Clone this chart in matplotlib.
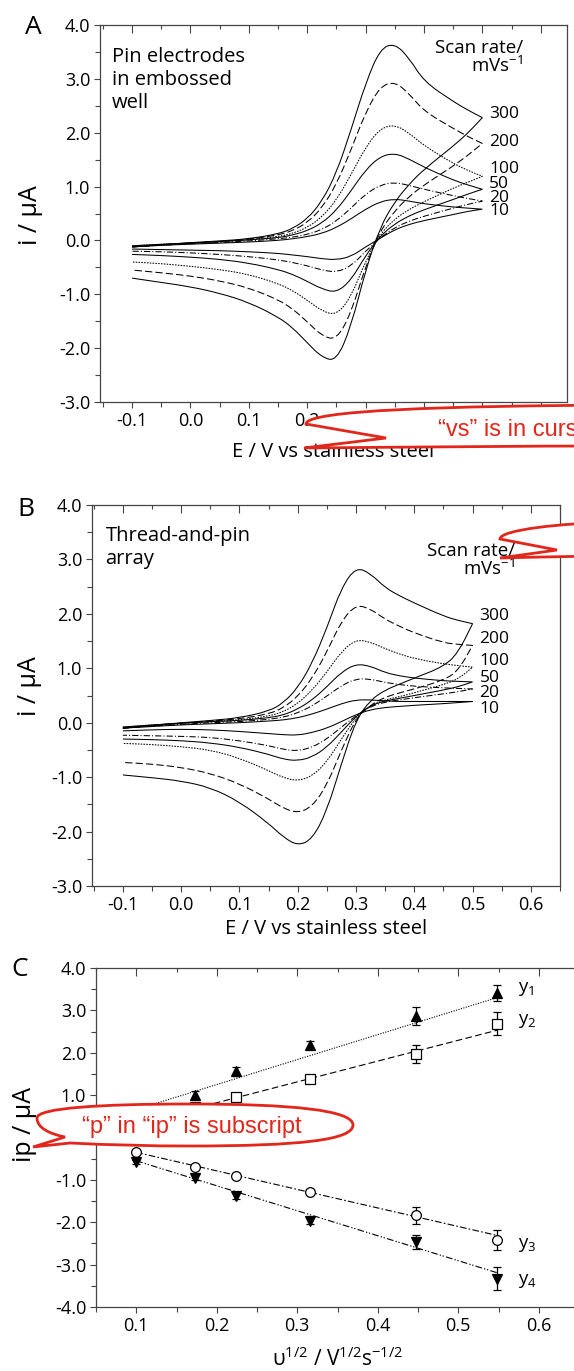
import matplotlib
matplotlib.use('Agg')
import matplotlib.pyplot as plt
from matplotlib.path import Path
from matplotlib.patches import PathPatch
from matplotlib.ticker import MultipleLocator, FormatStrFormatter

plt.rcParams['font.family'] = ['Open Sans', 'DejaVu Sans']
plt.rcParams['axes.unicode_minus'] = False
plt.rcParams['mathtext.fontset'] = 'custom'
plt.rcParams['mathtext.rm'] = 'Open Sans'
plt.rcParams['mathtext.it'] = 'Open Sans:italic'
plt.rcParams['mathtext.default'] = 'regular'

W, H = 574, 1371

# potential grid (V) for all voltammograms
E = [-0.1, -0.05, 0.0, 0.05, 0.1, 0.15, 0.175, 0.2, 0.225, 0.25, 0.275,
     0.3, 0.325, 0.35, 0.375, 0.4, 0.45, 0.475, 0.5]
rates = ['300', '200', '100', '50', '20', '10']

# panel A: pin electrodes in embossed well (uA), forward / reverse scan
a300_fwd = [-0.12, -0.08, -0.04, -0.01, 0.03, 0.12, 0.22, 0.40, 0.72, 1.25, 2.05, 2.92, 3.56, 3.66, 3.38, 2.95, 2.58, 2.42, 2.28]
a300_rev = [-0.70, -0.78, -0.86, -0.98, -1.15, -1.42, -1.62, -1.90, -2.17, -2.24, -1.60, -0.55, 0.25, 0.72, 1.05, 1.32, 1.75, 1.99, 2.28]
a200_fwd = [-0.12, -0.08, -0.05, -0.02, 0.02, 0.10, 0.18, 0.33, 0.60, 1.04, 1.68, 2.38, 2.86, 2.95, 2.72, 2.40, 2.08, 1.93, 1.80]
a200_rev = [-0.55, -0.60, -0.66, -0.75, -0.88, -1.10, -1.27, -1.51, -1.77, -1.85, -1.35, -0.48, 0.18, 0.55, 0.82, 1.03, 1.38, 1.58, 1.80]
a100_fwd = [-0.10, -0.07, -0.05, -0.02, 0.01, 0.07, 0.13, 0.24, 0.43, 0.75, 1.22, 1.73, 2.08, 2.15, 1.99, 1.76, 1.43, 1.30, 1.19]
a100_rev = [-0.40, -0.43, -0.48, -0.54, -0.63, -0.80, -0.93, -1.11, -1.31, -1.39, -1.05, -0.38, 0.12, 0.40, 0.58, 0.72, 0.97, 1.08, 1.19]
a50_fwd = [-0.10, -0.07, -0.05, -0.02, 0.01, 0.05, 0.10, 0.18, 0.32, 0.56, 0.92, 1.31, 1.56, 1.62, 1.51, 1.36, 1.12, 1.03, 0.95]
a50_rev = [-0.26, -0.28, -0.31, -0.35, -0.42, -0.54, -0.63, -0.76, -0.90, -0.97, -0.74, -0.28, 0.08, 0.31, 0.46, 0.57, 0.76, 0.86, 0.95]
a20_fwd = [-0.12, -0.09, -0.06, -0.04, -0.01, 0.03, 0.06, 0.11, 0.20, 0.36, 0.60, 0.86, 1.03, 1.08, 1.02, 0.95, 0.83, 0.78, 0.73]
a20_rev = [-0.20, -0.21, -0.23, -0.26, -0.30, -0.36, -0.41, -0.47, -0.55, -0.59, -0.48, -0.20, 0.05, 0.24, 0.36, 0.45, 0.60, 0.67, 0.73]
a10_fwd = [-0.12, -0.09, -0.07, -0.05, -0.03, 0.00, 0.03, 0.07, 0.13, 0.24, 0.40, 0.58, 0.72, 0.77, 0.73, 0.68, 0.62, 0.60, 0.58]
a10_rev = [-0.16, -0.17, -0.18, -0.19, -0.21, -0.24, -0.27, -0.30, -0.34, -0.36, -0.30, -0.12, 0.04, 0.20, 0.30, 0.37, 0.48, 0.54, 0.58]
a_label_y = [2.35, 1.83, 1.32, 1.04, 0.79, 0.54]

# panel B: thread-and-pin array
b300_fwd = [-0.10, -0.05, 0.00, 0.04, 0.09, 0.21, 0.36, 0.64, 1.10, 1.74, 2.48, 2.86, 2.74, 2.48, 2.33, 2.20, 1.96, 1.88, 1.82]
b300_rev = [-0.96, -1.01, -1.07, -1.19, -1.45, -1.85, -2.10, -2.26, -2.14, -1.62, -0.75, 0.05, 0.42, 0.60, 0.71, 0.82, 1.03, 1.28, 1.82]
b200_fwd = [-0.10, -0.05, -0.01, 0.03, 0.07, 0.16, 0.27, 0.48, 0.82, 1.30, 1.87, 2.17, 2.09, 1.90, 1.77, 1.65, 1.47, 1.44, 1.42]
b200_rev = [-0.73, -0.76, -0.82, -0.93, -1.12, -1.40, -1.57, -1.66, -1.54, -1.15, -0.50, 0.08, 0.33, 0.47, 0.55, 0.62, 0.78, 0.95, 1.42]
b100_fwd = [-0.08, -0.04, -0.01, 0.02, 0.05, 0.12, 0.20, 0.35, 0.60, 0.93, 1.31, 1.53, 1.48, 1.36, 1.26, 1.18, 1.08, 1.05, 1.02]
b100_rev = [-0.38, -0.40, -0.44, -0.50, -0.65, -0.88, -1.01, -1.07, -0.98, -0.72, -0.30, 0.10, 0.32, 0.42, 0.48, 0.55, 0.70, 0.80, 1.02]
b50_fwd = [-0.08, -0.04, -0.01, 0.02, 0.04, 0.09, 0.14, 0.25, 0.42, 0.66, 0.93, 1.08, 1.04, 0.92, 0.86, 0.82, 0.77, 0.76, 0.75]
b50_rev = [-0.30, -0.31, -0.33, -0.37, -0.45, -0.58, -0.67, -0.70, -0.63, -0.45, -0.17, 0.12, 0.32, 0.40, 0.45, 0.50, 0.60, 0.66, 0.75]
b20_fwd = [-0.10, -0.06, -0.03, 0.00, 0.02, 0.06, 0.10, 0.18, 0.31, 0.49, 0.68, 0.81, 0.80, 0.74, 0.70, 0.67, 0.64, 0.63, 0.62]
b20_rev = [-0.23, -0.24, -0.25, -0.27, -0.33, -0.42, -0.49, -0.52, -0.45, -0.30, -0.08, 0.13, 0.30, 0.38, 0.42, 0.46, 0.53, 0.57, 0.62]
b10_fwd = [-0.10, -0.07, -0.04, -0.02, 0.00, 0.03, 0.05, 0.09, 0.16, 0.25, 0.35, 0.42, 0.42, 0.40, 0.39, 0.39, 0.39, 0.39, 0.39]
b10_rev = [-0.15, -0.13, -0.12, -0.13, -0.16, -0.20, -0.22, -0.23, -0.18, -0.10, 0.02, 0.15, 0.24, 0.28, 0.30, 0.32, 0.35, 0.37, 0.39]
b_label_y = [1.96, 1.54, 1.14, 0.83, 0.55, 0.26]

# panel C: peak current vs sqrt(scan rate)
sqrt_v = [0.1, 0.173, 0.224, 0.316, 0.447, 0.548]
y1 = [0.62, 1.01, 1.56, 2.19, 2.86, 3.41]
y2 = [0.40, 0.72, 0.96, 1.39, 1.97, 2.68]
y3 = [-0.35, -0.69, -0.90, -1.29, -1.84, -2.42]
y4 = [-0.58, -0.95, -1.38, -1.97, -2.47, -3.33]
y1_err = [0.05, 0.08, 0.10, 0.08, 0.21, 0.18]
y2_err = [0.05, 0.05, 0.06, 0.06, 0.21, 0.27]
y3_err = [0.05, 0.05, 0.06, 0.06, 0.20, 0.24]
y4_err = [0.05, 0.06, 0.06, 0.06, 0.17, 0.28]
fit_x = [0.1, 0.548]
y1_fit = [0.66, 3.30]
y2_fit = [0.33, 2.53]
y3_fit = [-0.35, -2.31]
y4_fit = [-0.55, -3.19]

styles = ['-', (0, (7, 3)), (0, (1.5, 1.2)), '-', (0, (6, 2, 1, 2)), '-']
spine_col = '#444444'
red = '#e3261b'


def fpos(x, y):
    return (x / W, 1 - y / H)


def setup(ax, xlim, ylim, xmaj, ymaj):
    ax.set_xlim(*xlim)
    ax.set_ylim(*ylim)
    ax.xaxis.set_major_locator(MultipleLocator(xmaj))
    ax.xaxis.set_minor_locator(MultipleLocator(xmaj / 2))
    ax.yaxis.set_major_locator(MultipleLocator(ymaj))
    ax.yaxis.set_minor_locator(MultipleLocator(ymaj / 2))
    ax.xaxis.set_major_formatter(FormatStrFormatter('%.1f'))
    ax.yaxis.set_major_formatter(FormatStrFormatter('%.1f'))
    ax.tick_params(which='both', direction='out', top=False, right=False,
                   color=spine_col, width=0.8, labelsize=13)
    ax.tick_params(which='major', length=4.5, pad=2.5)
    ax.tick_params(which='minor', length=3.5)
    sec = ax.secondary_xaxis('top')
    sec.xaxis.set_major_locator(MultipleLocator(xmaj))
    sec.xaxis.set_minor_locator(MultipleLocator(xmaj / 2))
    sec.tick_params(which='both', direction='in', labeltop=False,
                    color=spine_col, width=0.8)
    sec.tick_params(which='major', length=6)
    sec.tick_params(which='minor', length=3)
    sec.spines['top'].set_visible(False)
    for s in ax.spines.values():
        s.set_color(spine_col)
        s.set_linewidth(0.9)


def smooth_line(ax, xs, ys, ls):
    # quadratic bezier through the midpoints, data points act as controls
    pts = list(zip(xs, ys))
    verts = [pts[0]]
    codes = [Path.MOVETO]
    for i in range(1, len(pts) - 1):
        nxt = pts[i + 1]
        verts += [pts[i], ((pts[i][0] + nxt[0]) / 2, (pts[i][1] + nxt[1]) / 2)]
        codes += [Path.CURVE3, Path.CURVE3]
    verts.append(pts[-1])
    codes.append(Path.LINETO)
    ax.add_patch(PathPatch(Path(verts, codes), fill=False, edgecolor='black',
                           lw=0.75, ls=ls, capstyle='butt'))


def cv_panel(ax, curves, label_y):
    for (fwd, rev), ls, rate, ly in zip(curves, styles, rates, label_y):
        smooth_line(ax, E + E[::-1], fwd + rev[::-1], ls)
        ax.text(0.512, ly, rate, fontsize=12.5, ha='left', va='center')


fig = plt.figure(figsize=(W / 100, H / 100), dpi=100)

# ---- A
axA = fig.add_axes([100 / W, 1 - 402 / H, 467 / W, 377 / H])
setup(axA, (-0.155, 0.645), (-3, 4), 0.1, 1.0)
cv_panel(axA, [(a300_fwd, a300_rev), (a200_fwd, a200_rev), (a100_fwd, a100_rev),
               (a50_fwd, a50_rev), (a20_fwd, a20_rev), (a10_fwd, a10_rev)], a_label_y)
axA.text(-0.135, 2.97, 'Pin electrodes\nin embossed\nwell', fontsize=14.5,
         ha='left', va='center', linespacing=1.2)
axA.text(0.57, 3.40, 'Scan rate/\nmVs$^{-1}$', fontsize=13.5, ha='right',
         va='center', multialignment='right', linespacing=0.95)
axA.set_xlabel('E / V vs stainless steel', fontsize=14.5, labelpad=9)
axA.set_ylabel('i / μA', fontsize=18)
axA.yaxis.set_label_coords(-0.122, 0.496)

# ---- B
axB = fig.add_axes([92 / W, 1 - 886 / H, 468 / W, 381 / H])
setup(axB, (-0.153, 0.65), (-3, 4), 0.1, 1.0)
cv_panel(axB, [(b300_fwd, b300_rev), (b200_fwd, b200_rev), (b100_fwd, b100_rev),
               (b50_fwd, b50_rev), (b20_fwd, b20_rev), (b10_fwd, b10_rev)], b_label_y)
axB.text(-0.13, 3.22, 'Thread-and-pin\narray', fontsize=14.5, ha='left',
         va='center', linespacing=1.2)
axB.text(0.573, 2.98, 'Scan rate/\nmVs$^{-1}$', fontsize=13.5, ha='right',
         va='center', multialignment='right', linespacing=0.95)
axB.set_xlabel('E / V vs stainless steel', fontsize=14.5, labelpad=4)
axB.set_ylabel('i / μA', fontsize=18)
axB.yaxis.set_label_coords(-0.107, 0.525)

# ---- C
axC = fig.add_axes([96 / W, 1 - 1307 / H, 483 / W, 339 / H])
setup(axC, (0.05, 0.65), (-4, 4), 0.1, 1.0)
axC.spines['right'].set_visible(False)
series = [(y1, y1_err, y1_fit, '^', 'black', (0, (1, 1.3))),
          (y2, y2_err, y2_fit, 's', 'white', (0, (6, 3))),
          (y3, y3_err, y3_fit, 'o', 'white', (0, (6, 2, 1.5, 2))),
          (y4, y4_err, y4_fit, 'v', 'black', (0, (6, 2, 1.2, 1.5, 1.2, 2)))]
for ys, err, fit, mk, fc, ls in series:
    axC.plot(fit_x, fit, color='black', lw=0.8, ls=ls)
    axC.errorbar(sqrt_v, ys, yerr=err, fmt=mk, ms=7, mfc=fc, mec='black',
                 mew=0.9, ecolor='black', elinewidth=0.9, capsize=3,
                 capthick=0.9)
for lab, ly in zip(['y$_1$', 'y$_2$', 'y$_3$', 'y$_4$'], [3.50, 2.75, -2.53, -3.38]):
    axC.text(0.574, ly, lab, fontsize=13.5, ha='left', va='center')
axC.set_xlabel('υ$^{1/2}$ / V$^{1/2}$s$^{-1/2}$', fontsize=15, labelpad=9)
axC.set_ylabel('ip / μA', fontsize=18)
axC.yaxis.set_label_coords(-0.122, 0.537)

# panel letters
for lab, (x, y) in zip('ABC', [(33, 27), (26, 509), (20, 970)]):
    fig.text(*fpos(x, y), lab, fontsize=19, ha='center', va='center')


# ---- red review call-outs
def balloon(verts, codes):
    pts = [fpos(x, y) for x, y in verts]
    patch = PathPatch(Path(pts, codes), transform=fig.transFigure,
                      facecolor='white', edgecolor=red, lw=2.0, zorder=5)
    fig.add_artist(patch)


M, C4, L, CL = Path.MOVETO, Path.CURVE4, Path.LINETO, Path.CLOSEPOLY
balloon([(620, 405), (450, 406), (306, 410), (306, 424),
         (386, 438), (304, 448),
         (420, 447), (520, 446), (620, 446), (620, 405)],
        [M, C4, C4, C4, L, L, C4, C4, C4, CL])
balloon([(620, 522), (560, 523), (500, 530), (500, 539),
         (557, 550), (500, 558),
         (540, 557), (580, 556), (620, 556), (620, 522)],
        [M, C4, C4, C4, L, L, C4, C4, C4, CL])
balloon([(353, 1125), (353, 1110), (290, 1104), (190, 1104),
         (100, 1104), (37, 1108), (37, 1118),
         (37, 1128), (50, 1134), (65, 1137),
         (33, 1147), (70, 1143),
         (110, 1145), (150, 1146), (190, 1146),
         (300, 1146), (353, 1140), (353, 1125), (353, 1125)],
        [M, C4, C4, C4, C4, C4, C4, C4, C4, C4, L, L, C4, C4, C4, C4, C4, C4, CL])
fig.text(*fpos(438, 430), '“vs” is in cursive', color=red, fontsize=17,
         family=['Liberation Sans'], ha='left', va='center', zorder=6)
fig.text(*fpos(82, 1127), '“p” in “ip” is subscript', color=red, fontsize=17,
         family=['Liberation Sans'], ha='left', va='center', zorder=6)

fig.savefig('out.png', dpi=100)
